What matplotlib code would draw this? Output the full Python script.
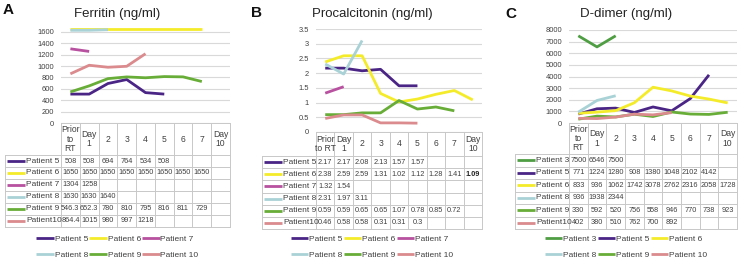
"""
Three-panel lab trend chart (ferritin, procalcitonin, D-dimer) with Excel-style data tables.
"""

import numpy as np
import matplotlib
matplotlib.use('Agg')
import matplotlib.pyplot as plt

W, H = 738, 262
FONT = ['Liberation Sans', 'DejaVu Sans']
plt.rcParams['font.family'] = FONT

# x categories
days_ac = ['Prior\nto\nRT', 'Day\n1', '2', '3', '4', '5', '6', '7', 'Day\n10']
days_b = ['Prior\nto RT', 'Day\n1', '2', '3', '4', '5', '6', '7', 'Day\n10']

# Panel A: ferritin
fer_names = ['Patient 5', 'Patient 6', 'Patient 7', 'Patient 8', 'Patient 9', 'Patient10']
fer_p5 = [508, 508, 694, 764, 534, 508]
fer_p6 = [1650, 1650, 1650, 1650, 1650, 1650, 1650, 1650]
fer_p7 = [1304, 1258]
fer_p8 = [1630, 1630, 1640]
fer_p9 = [546.3, 652.3, 780, 810, 795, 816, 811, 729]
fer_p10 = [864.4, 1015, 980, 997, 1218]

# Panel B: procalcitonin
pct_names = ['Patient 5', 'Patient 6', 'Patient 7', 'Patient 8', 'Patient 9', 'Patient10']
pct_p5 = [2.17, 2.17, 2.08, 2.13, 1.57, 1.57]
pct_p6 = [2.38, 2.59, 2.59, 1.31, 1.02, 1.12, 1.28, 1.41, 1.09]
pct_p7 = [1.32, 1.54]
pct_p8 = [2.31, 1.97, 3.11]
pct_p9 = [0.59, 0.59, 0.65, 0.65, 1.07, 0.78, 0.85, 0.72]
pct_p10 = [0.46, 0.58, 0.58, 0.31, 0.31, 0.3]

# Panel C: D-dimer
dd_names = ['Patient 3', 'Patient 5', 'Patient 6', 'Patient 8', 'Patient 9', 'Patient10']
dd_p3 = [7500, 6546, 7500]
dd_p5 = [771, 1224, 1280, 908, 1380, 1048, 2102, 4142]
dd_p6 = [833, 936, 1062, 1742, 3078, 2762, 2316, 2058, 1728]
dd_p8 = [936, 1938, 2344]
dd_p9 = [330, 592, 520, 756, 558, 946, 770, 738, 923]
dd_p10 = [402, 380, 510, 762, 700, 892]

colors = {
    'Patient 3': '#4f9e44',
    'Patient 5': '#4a2586',
    'Patient 6': '#f4ec2a',
    'Patient 7': '#b8519f',
    'Patient 8': '#a9d2d6',
    'Patient 9': '#68ad38',
    'Patient10': '#db8b8d',
}

fig = plt.figure(figsize=(W / 100, H / 100), dpi=100)
GRID = '#d9d9d9'
BORDER = '#c8c8c8'
TXT = '#404040'


def fmt(v):
    return f'{v:g}'


def draw_panel(letter, letter_xy, title, names, series, header, g,
               ylim, yticks, bold_cell=None):
    hl, cl, cr = g['hdr_left'], g['col_left'], g['col_right']
    top, y0, hb, tb = g['top'], g['y0'], g['hdr_bottom'], g['tbl_bottom']

    # lines
    ax = fig.add_axes([cl / W, 1 - y0 / H, (cr - cl) / W, (y0 - top) / H])
    x = np.arange(9)
    for name, vals in zip(names, series):
        v = np.full(9, np.nan)
        v[:len(vals)] = vals
        ax.plot(x, v, color=colors[name], lw=2.0, solid_capstyle='butt')
    ax.set_xlim(-0.5, 8.5)
    ax.set_ylim(*ylim)
    ax.set_xticks([])
    ax.set_yticks(yticks)
    ax.set_yticklabels([fmt(t) for t in yticks])
    ax.grid(axis='y', color=GRID, lw=0.8)
    ax.set_axisbelow(True)
    for s in ax.spines.values():
        s.set_visible(False)
    ax.tick_params(axis='y', length=0, pad=5, labelsize=5.4, labelcolor=TXT)

    # data table
    n = len(names)
    colw = (cr - cl) / 9
    rowh = (tb - hb) / n
    hw = (cl - hl) / colw
    hh = (hb - y0) / rowh
    tx = fig.add_axes([hl / W, 1 - tb / H, (cr - hl) / W, (tb - y0) / H])
    tx.set_xlim(-0.5 - hw, 8.5)
    tx.set_ylim(hh + n, 0)
    tx.axis('off')
    kw = dict(color=BORDER, lw=0.7, clip_on=False)
    for k in range(10):
        tx.plot([k - 0.5, k - 0.5], [0, hh + n], **kw)
    tx.plot([-0.5 - hw, -0.5 - hw], [hh, hh + n], **kw)
    tx.plot([-0.5, 8.5], [0, 0], **kw)
    for r in range(n + 1):
        tx.plot([-0.5 - hw, 8.5], [hh + r, hh + r], **kw)
    for i, lab in enumerate(header):
        tx.text(i, hh / 2, lab, ha='center', va='center', fontsize=6.2,
                color=TXT, linespacing=1.05)
    x0 = -0.5 - hw
    for r, (name, vals) in enumerate(zip(names, series)):
        yc = hh + r + 0.5
        tx.plot([x0 + 2 / colw, x0 + 20 / colw], [yc, yc], color=colors[name],
                lw=2.0, solid_capstyle='butt', clip_on=False)
        tx.text(x0 + 21 / colw, yc, name, ha='left', va='center', fontsize=6.0,
                color=TXT)
        for i, v in enumerate(vals):
            bold = bold_cell == (r, i)
            tx.text(i, yc, fmt(v), ha='center', va='center', fontsize=5.3,
                    color='#222222' if bold else TXT,
                    fontweight='bold' if bold else 'normal')

    # legend under the table, filled row-wise
    handles = [plt.Line2D([], [], color=colors[nm], lw=2.0, solid_capstyle='butt')
               for nm in names]
    labels = [nm.replace('Patient10', 'Patient 10') for nm in names]
    order = [0, 3, 1, 4, 2, 5]
    fig.legend([handles[i] for i in order], [labels[i] for i in order],
               loc='center', bbox_to_anchor=((hl + cr) / 2 / W, 1 - g['leg_y'] / H),
               ncol=3, frameon=False, handlelength=2.1, handletextpad=0.1,
               columnspacing=0.15, labelspacing=0.9,
               prop={'size': 6.0}, labelcolor=TXT)

    fig.text((hl + cr) / 2 / W, 1 - 14 / H, title, ha='center', va='center',
             fontsize=9.5, color='#222222')
    fig.text(letter_xy[0] / W, 1 - letter_xy[1] / H, letter, ha='center',
             va='center', fontsize=11, fontweight='bold', color='#111111')


geom_a = dict(hdr_left=5, col_left=61, col_right=230, top=20.6, y0=123,
              hdr_bottom=155, tbl_bottom=227, leg_y=247)
geom_b = dict(hdr_left=262, col_left=316, col_right=482, top=29, y0=132,
              hdr_bottom=156, tbl_bottom=229, leg_y=247)
geom_c = dict(hdr_left=515, col_left=569, col_right=737, top=30, y0=123,
              hdr_bottom=154, tbl_bottom=229, leg_y=247)

draw_panel('A', (8, 10), 'Ferritin (ng/ml)', fer_names,
           [fer_p5, fer_p6, fer_p7, fer_p8, fer_p9, fer_p10], days_ac, geom_a,
           (0, 1800), list(range(0, 1601, 200)))
draw_panel('B', (257, 13), 'Procalcitonin (ng/ml)', pct_names,
           [pct_p5, pct_p6, pct_p7, pct_p8, pct_p9, pct_p10], days_b, geom_b,
           (0, 3.5), [0, 0.5, 1, 1.5, 2, 2.5, 3, 3.5], bold_cell=(1, 8))
draw_panel('C', (511, 14), 'D-dimer (ng/ml)', dd_names,
           [dd_p3, dd_p5, dd_p6, dd_p8, dd_p9, dd_p10], days_ac, geom_c,
           (0, 8000), list(range(0, 8001, 1000)))

fig.savefig('out.png', dpi=100)
